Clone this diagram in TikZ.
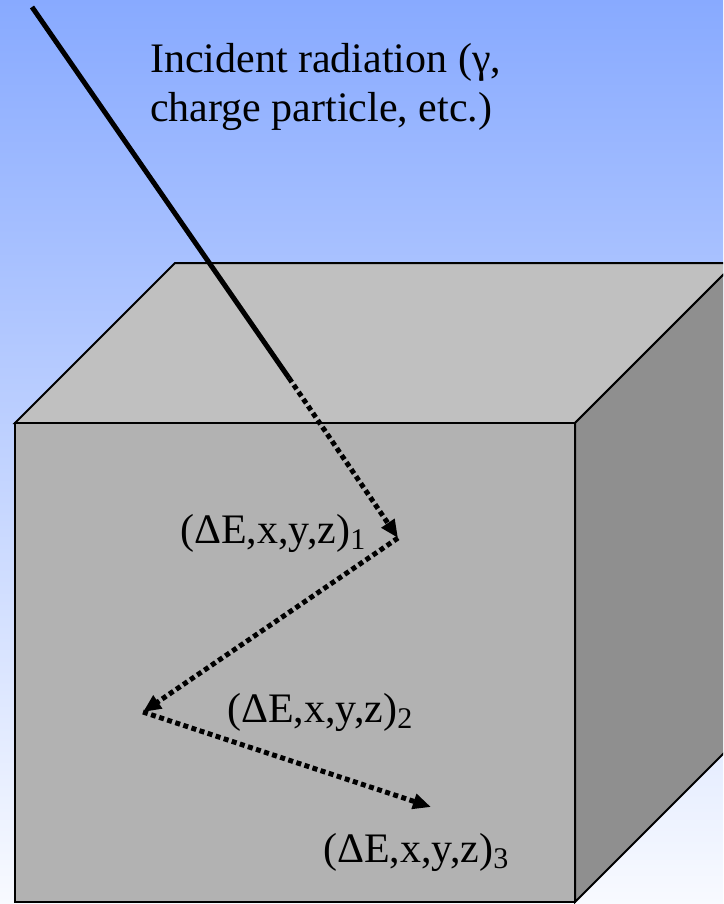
\documentclass[tikz,border=0pt]{standalone}
\usepackage{fontspec}
\setmainfont{Liberation Serif}
\usepackage{xcolor}
\definecolor{skytop}{HTML}{88AAFF}
\definecolor{skybottom}{HTML}{F8FAFF}
\definecolor{facetop}{HTML}{C0C0C0}
\definecolor{facefront}{HTML}{B2B2B2}
\definecolor{faceside}{HTML}{8F8F8F}
\usepackage{tikz}
\usetikzlibrary{arrows.meta}
\newcommand{\lowidx}[1]{\raisebox{-6pt}{\fontsize{30}{30}\selectfont #1}}
\tikzset{
  face/.style  = {draw=black, line width=2pt, line join=miter},
  ray/.style   = {line width=5pt, draw=black},
  track/.style = {line width=5pt, draw=black, dash pattern=on 5pt off 3.5pt,
                  -{Triangle[length=18pt, width=15pt]}},
  lbl/.style   = {inner sep=0pt, anchor=base west, align=left,
                  font=\fontsize{42}{49}\selectfont}
}

\begin{document}
\begin{tikzpicture}[x=1pt, y=-1pt]
  \useasboundingbox (0,0) rectangle (723,904);
  \shade[top color=skytop, bottom color=skybottom] (0,0) rectangle (723,904);

  % the detector block
  \begin{scope}
    \clip (0,0) rectangle (723,904);
    \filldraw[face, fill=facetop] (15,423) -- (175,263) -- (735,263) -- (575,423) -- cycle;
    \filldraw[face, fill=faceside] (575,423) -- (735,263) -- (735,742) -- (575,902) -- cycle;
    \filldraw[face, fill=facefront] (15,423) rectangle (575,902);
  \end{scope}

  % interaction points
  \coordinate (src) at (32,7);
  \coordinate (entry) at (289,378);
  \coordinate (hit1) at (398,538);
  \coordinate (hit2) at (143,712);
  \coordinate (hit3) at (431,807);

  \draw[ray] (src) -- (entry);
  \draw[track] (entry) -- (hit1);
  \draw[track] (hit1) -- (hit2);
  \draw[track] (hit2) -- (hit3);

  % base anchor of a two-line node sits on its last line
  \node[lbl] (incident) at (150,122) {Incident radiation (γ,\\charge particle, etc.)};
  \node[lbl] (dep1) at (180,543) {(ΔE,x,y,z)\lowidx{1}};
  \node[lbl] (dep2) at (227,722) {(ΔE,x,y,z)\lowidx{2}};
  \node[lbl] (dep3) at (323,862) {(ΔE,x,y,z)\lowidx{3}};
\end{tikzpicture}
\end{document}
